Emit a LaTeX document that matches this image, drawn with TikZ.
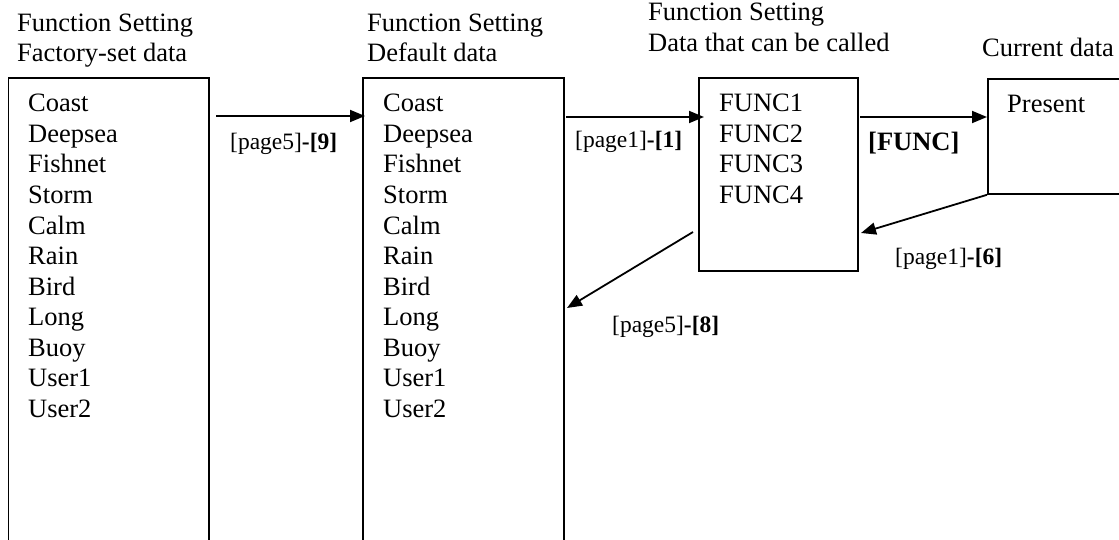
\documentclass[tikz,border=0pt]{standalone}
\usepackage{fontspec}
\setmainfont{Liberation Serif}
\usetikzlibrary{arrows.meta}
\begin{document}
\begin{tikzpicture}[x=1pt,y=-1pt,
  box/.style={draw,line width=1.8pt,rectangle,inner sep=0pt,anchor=north west},
  txt/.style={inner sep=0pt,anchor=base west,font=\fontsize{26.5}{30.5}\selectfont},
  lbl/.style={inner sep=0pt,anchor=base west,font=\fontsize{23.5}{28}\selectfont},
  arr/.style={line width=1.8pt,-{Triangle[length=15pt,width=12pt]}}]
\clip (0,0) rectangle (1119,540);
% boxes
\node[box,minimum width=200.5pt,minimum height=560pt] (b1) at (7.5,77.5) {};
\node[box,minimum width=201pt,minimum height=560pt] (b2) at (362,77.5) {};
\node[box,minimum width=159pt,minimum height=193pt] (b3) at (698,77) {};
\node[box,minimum width=250pt,minimum height=115pt] (b4) at (987,78) {};
% titles
\node[txt] (t1a) at (17,32) {Function Setting};
\node[txt] (t1b) at (17,62) {Factory-set data};
\node[txt] (t2a) at (367,32) {Function Setting};
\node[txt] (t2b) at (367,62) {Default data};
\node[txt] (t3a) at (648,21) {Function Setting};
\node[txt] (t3b) at (648,52) {Data that can be called};
\node[txt] (t4) at (982,57) {Current data};
% lists
\foreach \w [count=\i] in {Coast,Deepsea,Fishnet,Storm,Calm,Rain,Bird,Long,Buoy,User1,User2}{
  \node[txt] (p\i) at (28,81.5+30.5*\i) {\w};
  \node[txt] (q\i) at (383,81.5+30.5*\i) {\w};
}
\foreach \w [count=\i] in {FUNC1,FUNC2,FUNC3,FUNC4}{
  \node[txt] (f\i) at (719,81.5+30.5*\i) {\w};
}
\node[txt] (pr) at (1007,113) {Present};
% labels
\node[lbl] (l9) at (230,150) {[page5]\textbf{-[9]}};
\node[lbl] (l1) at (575,148) {[page1]\textbf{-[1]}};
\node[txt] (lf) at (868,151) {\textbf{[FUNC]}};
\node[lbl] (l6) at (895,264) {[page1]\textbf{-[6]}};
\node[lbl] (l8) at (612,332) {[page5]\textbf{-[8]}};
% connectors
\coordinate (a1s) at (216,116);
\coordinate (a1e) at (365,116);
\coordinate (a2s) at (566,117);
\coordinate (a2e) at (704,117);
\coordinate (a3s) at (860,117);
\coordinate (a3e) at (987,117);
\coordinate (a4e) at (861,233);
\coordinate (a5s) at (693,232);
\coordinate (a5e) at (567,308);
\draw[arr] (a1s) -- (a1e);
\draw[arr] (a2s) -- (a2e);
\draw[arr] (a3s) -- (a3e);
\draw[arr] (b4.south west) -- (a4e);
\draw[arr] (a5s) -- (a5e);
\end{tikzpicture}
\end{document}
